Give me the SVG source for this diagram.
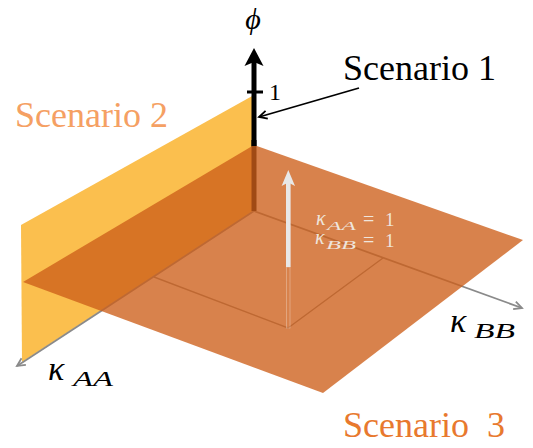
<svg xmlns="http://www.w3.org/2000/svg" width="533" height="448" viewBox="0 0 533 448">
  <style>
    .axis { stroke: #8a8a8a; stroke-width: 1.8; fill: none; }
    .sq { stroke: #8a8a8a; stroke-width: 1.4; fill: none; }
    .lbl { fill: #efe5dc; }
  </style>
  <defs>
    <marker id="grayHead" viewBox="-10 -6 12 12" refX="0" refY="0" markerWidth="12" markerHeight="12" markerUnits="userSpaceOnUse" orient="auto">
      <path d="M-8,-4 L0,0 L-8,4" fill="none" stroke="#8a8a8a" stroke-width="1.8" stroke-linejoin="miter"/>
    </marker>
    <marker id="blackHead" viewBox="-10 -6 12 12" refX="0" refY="0" markerWidth="12" markerHeight="12" markerUnits="userSpaceOnUse" orient="auto">
      <path d="M-8,-4 L0,0 L-8,4" fill="none" stroke="#000" stroke-width="1.8"/>
    </marker>
  </defs>

  <!-- Scenario 2 plane (vertical, yellow) -->
  <g id="plane-scenario2">
    <polygon points="254,95 21,225 22,362 254,211" fill="#fbbf4e"/>
  </g>

  <g id="connectors">
    <line class="axis" x1="254" y1="211" x2="17" y2="366" marker-end="url(#grayHead)"/>
    <line class="axis" x1="254" y1="211" x2="522" y2="308" marker-end="url(#grayHead)"/>
    <polyline class="sq" points="154,277 288,328 383,258"/>
    <line x1="254" y1="211" x2="254" y2="140" stroke="#000" stroke-width="5"/>
  </g>

  <!-- Scenario 3 plane (floor) -->
  <g id="plane-scenario3">
    <polygon points="254,145 523,240 323,393 23,282" fill="#cd5f19" fill-opacity="0.78"/>
  </g>

  <g id="phi-axis">
    <line x1="254" y1="146" x2="254" y2="60" stroke="#000" stroke-width="5"/>
    <polygon points="254,48 263.5,66 254,62 244.5,66" fill="#000"/>
    <line x1="247" y1="92" x2="263" y2="92" stroke="#000" stroke-width="3"/>
    <text x="269" y="100" font-size="24" font-family="Liberation Serif, serif">1</text>
    <text x="253" y="29" font-size="30" font-style="italic" font-family="Liberation Serif, DejaVu Serif, serif" text-anchor="middle">ϕ</text>
  </g>

  <g id="white-arrow">
    <rect x="286.5" y="267" width="3.5" height="61" fill="none" stroke="#f3e2d6" stroke-opacity="0.45" stroke-width="0.8"/>
    <rect x="286" y="181" width="4.6" height="86" fill="#e8e8e8"/>
    <polygon points="288.3,170 295,186 288.3,182.5 281.6,186" fill="#e8e8e8"/>
  </g>

  <g id="unit-labels" font-family="Liberation Serif, serif" class="lbl">
    <text x="316" y="225" font-size="20" font-style="italic">κ</text>
    <text x="327" y="230" font-size="13" font-style="italic" textLength="29" lengthAdjust="spacingAndGlyphs">AA</text>
    <text x="363" y="226" font-size="20">=</text>
    <text x="385" y="226" font-size="19">1</text>
    <text x="315" y="244" font-size="20" font-style="italic">κ</text>
    <text x="326" y="249" font-size="13" font-style="italic" textLength="30" lengthAdjust="spacingAndGlyphs">BB</text>
    <text x="363" y="247" font-size="20">=</text>
    <text x="385" y="247" font-size="19">1</text>
  </g>

  <g id="label-kappaAA" font-family="Liberation Serif, serif" font-style="italic">
    <text x="48" y="380" font-size="34">κ</text>
    <text x="73" y="386" font-size="22" textLength="40" lengthAdjust="spacingAndGlyphs">AA</text>
  </g>
  <g id="label-kappaBB" font-family="Liberation Serif, serif" font-style="italic">
    <text x="450" y="332" font-size="34">κ</text>
    <text x="474" y="338" font-size="22" textLength="41" lengthAdjust="spacingAndGlyphs">BB</text>
  </g>

  <g id="scenario1" font-family="Liberation Serif, serif" font-size="36">
    <text x="343" y="80" fill="#000">Scenario 1</text>
    <line x1="359" y1="88" x2="259" y2="117" stroke="#000" stroke-width="1.8" marker-end="url(#blackHead)"/>
  </g>
  <g id="scenario2" font-family="Liberation Serif, serif" font-size="36">
    <text x="15" y="127" fill="#f5a063">Scenario 2</text>
  </g>
  <g id="scenario3" font-family="Liberation Serif, serif" font-size="36">
    <text x="343" y="437" fill="#e8792e" xml:space="preserve" style="white-space:pre">Scenario  3</text>
  </g>
</svg>
